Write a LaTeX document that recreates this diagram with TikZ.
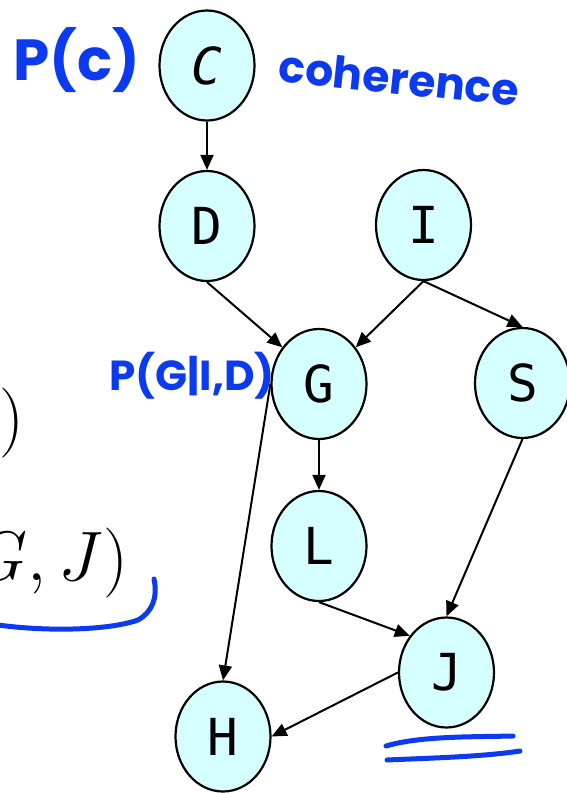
\RequirePackage{fix-cm}
\documentclass[tikz,border=0pt]{standalone}
\usepackage{fontspec}
\usetikzlibrary{arrows.meta,shapes.geometric}
\newfontfamily\nodefont{DejaVu Sans Mono}
\newfontfamily\handfont{Poppins}
\definecolor{nodefill}{RGB}{214,255,255}
\definecolor{inkblue}{RGB}{12,58,240}
\tikzset{
  var/.style={ellipse, draw, line width=2.2pt, fill=nodefill,
    minimum width=95pt, minimum height=110pt, inner sep=0pt,
    font=\nodefont\fontsize{51}{51}\selectfont},
  arc/.style={line width=2pt, -{Triangle[length=15pt,width=13pt]}},
  inkline/.style={draw=inkblue, line width=5pt, line cap=round, line join=round},
  handtext/.style={text=inkblue, inner sep=0pt},
  mathtext/.style={inner sep=0pt, anchor=base east, font=\fontsize{70}{80}\selectfont}
}
\begin{document}
\begin{tikzpicture}[x=1pt,y=-1pt]
\useasboundingbox (0,0) rectangle (567,793);
\clip (0,0) rectangle (567,793);

% network variables
\node[var] (C) at (207,65.5) {\itshape C};
\node[var] (D) at (207,226) {D};
\node[var] (I) at (423.5,225) {I};
\node[var] (G) at (319,384) {G};
\node[var] (S) at (522.5,383) {S};
\node[var] (L) at (319,546) {L};
\node[var] (J) at (446.5,672.5) {J};
\node[var] (H) at (223,736.5) {H};

% dependencies
\draw[arc] (C.south) -- (D.north);
\draw[arc] (D.south) -- (G.135);
\draw[arc] (I.south) -- (G.45);
\draw[arc] (I.south) -- (S.north);
\draw[arc] (G.south) -- (L.north);
\draw[arc] (G.west) -- (H.north);
\draw[arc] (S.south) -- (J.north);
\draw[arc] (L.south) -- (J.135);
\draw[arc] (J.west) -- (H.east);

% formula fragments at the left edge
\node[mathtext] (f1) at (24,440) {$)$};
\node[mathtext] (f2) at (128,580) {$G, J)$};

% handwritten notes
\node[handtext, font=\handfont\bfseries\fontsize{58}{58}\selectfont] (pc) at (77,60) {P(c)};
\node[handtext, font=\handfont\bfseries\fontsize{44}{44}\selectfont, rotate=-6] (coh) at (399,78) {coherence};
\node[handtext, font=\handfont\bfseries\fontsize{42}{42}\selectfont] (pg) at (192,376) {P(G|I,D)};

% bracket under the formula
\draw[inkline] (-2,625) .. controls (50,632) and (110,630) .. (138,620)
  .. controls (152,612) and (158,598) .. (154,579);

% double underline under J
\draw[inkline] (386,746) .. controls (420,736) and (470,737) .. (513,736);
\draw[inkline] (387,760) .. controls (430,758) and (480,757) .. (520,751);
\end{tikzpicture}
\end{document}
